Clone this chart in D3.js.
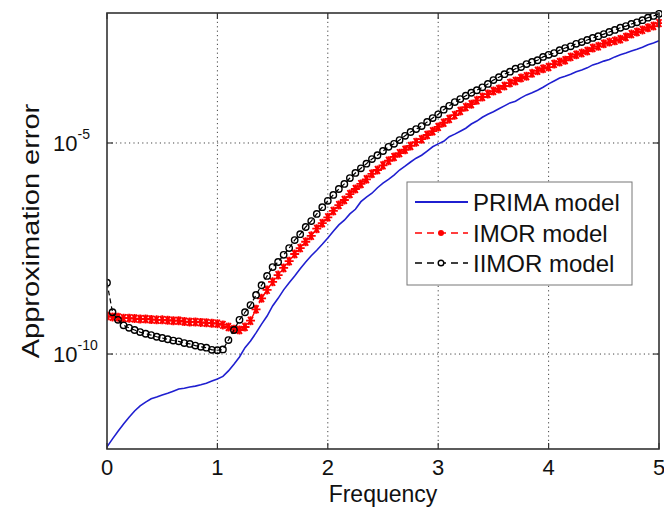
<!DOCTYPE html>
<html><head><meta charset="utf-8">
<script src="https://cdn.jsdelivr.net/npm/d3@7"></script>
<style>html,body{margin:0;padding:0;background:#fff;}svg{display:block;}</style>
</head><body>
<svg id="chart" width="664" height="508"></svg>
<script>
// ---- data (error values stored as log10 exponents) ----
const freq = [0,0.05,0.1,0.15,0.2,0.25,0.3,0.35,0.4,0.45,0.5,0.55,0.6,0.65,0.7,0.75,0.8,0.85,0.9,0.95,
1,1.05,1.1,1.15,1.2,1.25,1.3,1.35,1.4,1.45,1.5,1.55,1.6,1.65,1.7,1.75,1.8,1.85,1.9,1.95,
2,2.05,2.1,2.15,2.2,2.25,2.3,2.35,2.4,2.45,2.5,2.55,2.6,2.65,2.7,2.75,2.8,2.85,2.9,2.95,
3,3.05,3.1,3.15,3.2,3.25,3.3,3.35,3.4,3.45,3.5,3.55,3.6,3.65,3.7,3.75,3.8,3.85,3.9,3.95,
4,4.05,4.1,4.15,4.2,4.25,4.3,4.35,4.4,4.45,4.5,4.55,4.6,4.65,4.7,4.75,4.8,4.85,4.9,4.95,5];

const primaLog10 = [-12.20,-12.01,-11.83,-11.66,-11.50,-11.35,-11.23,-11.14,-11.06,-11.02,
-10.97,-10.93,-10.88,-10.83,-10.81,-10.78,-10.76,-10.73,-10.69,-10.64,
-10.59,-10.53,-10.40,-10.24,-10.07,-9.85,-9.69,-9.50,-9.29,-9.10,
-8.86,-8.68,-8.48,-8.31,-8.15,-7.98,-7.82,-7.67,-7.54,-7.40,
-7.25,-7.09,-6.94,-6.83,-6.68,-6.57,-6.39,-6.28,-6.19,-6.06,
-5.95,-5.86,-5.76,-5.64,-5.55,-5.45,-5.36,-5.29,-5.19,-5.09,
-5.02,-4.96,-4.85,-4.79,-4.72,-4.65,-4.55,-4.48,-4.39,-4.32,
-4.26,-4.19,-4.12,-4.05,-4.01,-3.93,-3.86,-3.81,-3.75,-3.68,
-3.60,-3.53,-3.46,-3.42,-3.37,-3.31,-3.27,-3.22,-3.15,-3.11,
-3.06,-3.02,-2.96,-2.91,-2.87,-2.82,-2.78,-2.73,-2.67,-2.63,-2.58];

const imorLog10 = [-9.10,-9.12,-9.13,-9.15,-9.15,-9.16,-9.17,-9.17,-9.18,-9.19,
-9.19,-9.20,-9.21,-9.21,-9.23,-9.24,-9.24,-9.25,-9.26,-9.27,
-9.28,-9.31,-9.36,-9.41,-9.43,-9.36,-9.21,-8.94,-8.68,-8.48,
-8.29,-8.13,-7.96,-7.80,-7.63,-7.49,-7.34,-7.20,-7.03,-6.90,
-6.76,-6.61,-6.47,-6.35,-6.21,-6.09,-5.97,-5.86,-5.73,-5.64,
-5.53,-5.42,-5.33,-5.24,-5.16,-5.07,-4.98,-4.91,-4.81,-4.72,
-4.62,-4.52,-4.43,-4.34,-4.24,-4.15,-4.08,-3.99,-3.91,-3.84,
-3.77,-3.72,-3.65,-3.58,-3.53,-3.46,-3.42,-3.35,-3.29,-3.24,
-3.20,-3.13,-3.08,-3.04,-2.96,-2.91,-2.87,-2.82,-2.75,-2.71,
-2.65,-2.61,-2.58,-2.54,-2.49,-2.42,-2.37,-2.32,-2.27,-2.23,-2.16];

const iimorLog10 = [-8.31,-9.01,-9.19,-9.32,-9.38,-9.43,-9.48,-9.52,-9.55,-9.59,
-9.62,-9.65,-9.68,-9.70,-9.74,-9.76,-9.80,-9.83,-9.85,-9.90,
-9.91,-9.89,-9.67,-9.43,-9.19,-9.01,-8.84,-8.60,-8.37,-8.15,
-7.94,-7.82,-7.65,-7.49,-7.30,-7.16,-6.99,-6.85,-6.68,-6.52,
-6.37,-6.23,-6.09,-5.97,-5.83,-5.71,-5.60,-5.49,-5.38,-5.29,
-5.19,-5.09,-5.02,-4.93,-4.83,-4.74,-4.67,-4.60,-4.50,-4.41,
-4.32,-4.21,-4.12,-4.03,-3.96,-3.88,-3.81,-3.75,-3.68,-3.60,
-3.51,-3.44,-3.37,-3.31,-3.24,-3.20,-3.13,-3.08,-3.04,-2.96,
-2.91,-2.87,-2.80,-2.75,-2.71,-2.65,-2.61,-2.56,-2.51,-2.47,
-2.42,-2.37,-2.32,-2.27,-2.23,-2.18,-2.14,-2.09,-2.03,-1.99,-1.94];

const seriesNames = ["PRIMA model", "IMOR model", "IIMOR model"];
const xTicks = [0,1,2,3,4,5];
const yTickExps = [-10, -5];
const yDomainExp = [-12.25, -1.92];
const xLabel = "Frequency";
const yLabel = "Approximation error";

// ---- layout ----
const m = {left:107, right:659, top:13, bottom:449};
const FONT = "'Liberation Sans', Arial, sans-serif";
const svg = d3.select("#chart");
const x = d3.scaleLinear().domain([0,5]).range([m.left, m.right]);
const y = d3.scaleLog().domain(yDomainExp.map(e=>Math.pow(10,e))).range([m.bottom, m.top]);

const toPts = arr => freq.map((f,i)=>({f, v: Math.pow(10, arr[i])}));
const prima = toPts(primaLog10), imor = toPts(imorLog10), iimor = toPts(iimorLog10);

svg.append("clipPath").attr("id","clip").append("rect")
  .attr("x",m.left).attr("y",m.top-3).attr("width",m.right-m.left+3).attr("height",m.bottom-m.top+3);

// grid
const grid = svg.append("g").attr("stroke","#444").attr("stroke-width",1).attr("stroke-dasharray","1.2,3.2");
grid.selectAll("line.v").data(xTicks.filter(t=>t>0&&t<5)).enter().append("line")
  .attr("x1",d=>x(d)).attr("x2",d=>x(d)).attr("y1",m.top).attr("y2",m.bottom);
grid.selectAll("line.h").data(yTickExps).enter().append("line")
  .attr("y1",d=>y(Math.pow(10,d))).attr("y2",d=>y(Math.pow(10,d))).attr("x1",m.left).attr("x2",m.right);

const plot = svg.append("g").attr("clip-path","url(#clip)");
const line = d3.line().x(d=>x(d.f)).y(d=>y(d.v));

// PRIMA
plot.append("path").datum(prima).attr("d",line).attr("fill","none")
  .attr("stroke","#1f1fd0").attr("stroke-width",1.6);

// IMOR: dashed red line with asterisk markers
plot.append("path").datum(imor).attr("d",line).attr("fill","none")
  .attr("stroke","#ff0000").attr("stroke-width",1.4).attr("stroke-dasharray","5,3");
const star = "M-4.5,0L4.5,0M-2.4,-4L2.4,4M-2.4,4L2.4,-4M0,-4.5L0,4.5";
plot.append("g").selectAll("path").data(imor).enter().append("path")
  .attr("transform",d=>`translate(${x(d.f)},${y(d.v)})`).attr("d",star)
  .attr("stroke","#ff0000").attr("stroke-width",1.8).attr("fill","none");

// IIMOR: dashed black line with circle markers
plot.append("path").datum(iimor).attr("d",line).attr("fill","none")
  .attr("stroke","#000").attr("stroke-width",1.2).attr("stroke-dasharray","5,3");
plot.append("g").selectAll("circle").data(iimor).enter().append("circle")
  .attr("cx",d=>x(d.f)).attr("cy",d=>y(d.v)).attr("r",3.2)
  .attr("fill","none").attr("stroke","#000").attr("stroke-width",1.4);

// frame
svg.append("rect").attr("x",m.left).attr("y",m.top).attr("width",m.right-m.left).attr("height",m.bottom-m.top)
  .attr("fill","none").attr("stroke","#333").attr("stroke-width",1.6);

// ticks
const tk = svg.append("g").attr("stroke","#333").attr("stroke-width",1.2);
xTicks.forEach(t=>{
  tk.append("line").attr("x1",x(t)).attr("x2",x(t)).attr("y1",m.bottom).attr("y2",m.bottom-6);
  tk.append("line").attr("x1",x(t)).attr("x2",x(t)).attr("y1",m.top).attr("y2",m.top+6);
});
yTickExps.forEach(e=>{
  const yy=y(Math.pow(10,e));
  tk.append("line").attr("x1",m.left).attr("x2",m.left+6).attr("y1",yy).attr("y2",yy);
  tk.append("line").attr("x1",m.right).attr("x2",m.right-6).attr("y1",yy).attr("y2",yy);
});

// x tick labels
svg.append("g").selectAll("text").data(xTicks).enter().append("text")
  .attr("x",d=>x(d)).attr("y",475).attr("text-anchor","middle")
  .attr("font-family",FONT).attr("font-size",22).attr("fill","#111").text(d=>d);

// y tick labels 10^e
yTickExps.forEach(e=>{
  const yy=y(Math.pow(10,e));
  const t = svg.append("text").attr("x",53).attr("y",yy+8)
    .attr("font-family",FONT).attr("font-size",22).attr("fill","#111");
  t.append("tspan").text("10");
  t.append("tspan").attr("dy",-12).attr("font-size",14).text(String(e));
});

// axis labels
svg.append("text").attr("x",(m.left+m.right)/2).attr("y",502).attr("text-anchor","middle")
  .attr("font-family",FONT).attr("font-size",23).attr("fill","#111").text(xLabel);
svg.append("text").attr("transform",`translate(39,231) rotate(-90) scale(1.26,1)`)
  .attr("text-anchor","middle").attr("font-family",FONT).attr("font-size",23).attr("fill","#111").text(yLabel);

// legend
const lg = svg.append("g");
lg.append("rect").attr("x",407).attr("y",182).attr("width",225).attr("height",103)
  .attr("fill","#fff").attr("stroke","#777").attr("stroke-width",1);
const lgY = [202, 233, 263];
lg.append("line").attr("x1",415).attr("x2",468).attr("y1",lgY[0]).attr("y2",lgY[0])
  .attr("stroke","#1f1fd0").attr("stroke-width",1.8);
lg.append("line").attr("x1",415).attr("x2",468).attr("y1",lgY[1]).attr("y2",lgY[1])
  .attr("stroke","#ff0000").attr("stroke-width",1.6).attr("stroke-dasharray","7,5");
lg.append("circle").attr("cx",441).attr("cy",lgY[1]).attr("r",3).attr("fill","#ff0000");
lg.append("line").attr("x1",415).attr("x2",468).attr("y1",lgY[2]).attr("y2",lgY[2])
  .attr("stroke","#000").attr("stroke-width",1.6).attr("stroke-dasharray","7,5");
lg.append("circle").attr("cx",441).attr("cy",lgY[2]).attr("r",2.8).attr("fill","#fff").attr("stroke","#000").attr("stroke-width",1.4);
lg.selectAll("text").data(seriesNames).enter().append("text")
  .attr("x",473).attr("y",(d,i)=>lgY[i]+8.5)
  .attr("font-family",FONT).attr("font-size",24).attr("fill","#111").text(d=>d);
</script>
</body></html>
